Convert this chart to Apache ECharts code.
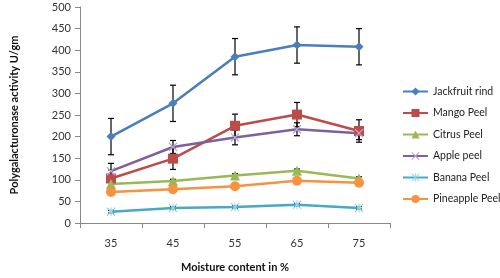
<!DOCTYPE html>
<html>
<head>
<meta charset="utf-8">
<script src="https://cdn.jsdelivr.net/npm/echarts@6/dist/echarts.min.js"></script>
<style>
  html, body { margin: 0; padding: 0; background: #fff; }
  #chart { width: 500px; height: 278px; }
</style>
</head>
<body>
<div id="chart"></div>
<script>
  // moisture content categories
  var moisture = ['35', '45', '55', '65', '75'];

  var jackfruit = [200, 277, 385, 412, 408];
  var mango = [103, 149, 225, 251, 213];
  var citrus = [90, 97, 110, 121, 103];
  var apple = [120, 176, 198, 217, 208];
  var banana = [26, 35, 37, 42, 35];
  var pineapple = [72, 78, 85, 98, 93];

  // standard deviations (error bars)
  var jackfruitErr = [42, 42, 42, 42, 42];
  var mangoErr = [20, 25, 27, 28, 26];
  var citrusErr = [4, 4, 4, 4, 4];
  var appleErr = [18, 15, 17, 15, 15];
  var bananaErr = [3, 3, 3, 3, 3];
  var pineappleErr = [3, 3, 3, 3, 3];

  var xPath = 'path://M0,1 L1,0 L5,4 L9,0 L10,1 L6,5 L10,9 L9,10 L5,6 L1,10 L0,9 L4,5 Z';
  var starPath = 'path://M0,1 L1,0 L5,4 L9,0 L10,1 L6,5 L10,9 L9,10 L5,6 L1,10 L0,9 L4,5 Z M4.4,0 L5.6,0 L5.6,10 L4.4,10 Z';

  var font = 'Lato, "Open Sans", sans-serif';

  function errData(vals, errs) {
    var out = [];
    for (var i = 0; i < vals.length; i++) {
      out.push([i, vals[i] - errs[i], vals[i] + errs[i]]);
    }
    return out;
  }

  function errSeries(vals, errs) {
    return {
      type: 'custom',
      silent: true,
      z: 1,
      data: errData(vals, errs),
      renderItem: function (params, api) {
        var lo = api.coord([api.value(0), api.value(1)]);
        var hi = api.coord([api.value(0), api.value(2)]);
        var w = 3;
        var st = { stroke: '#000', lineWidth: 1.2 };
        return {
          type: 'group',
          children: [
            { type: 'line', shape: { x1: hi[0], y1: hi[1], x2: lo[0], y2: lo[1] }, style: st },
            { type: 'line', shape: { x1: hi[0] - w, y1: hi[1], x2: hi[0] + w, y2: hi[1] }, style: st },
            { type: 'line', shape: { x1: lo[0] - w, y1: lo[1], x2: lo[0] + w, y2: lo[1] }, style: st }
          ]
        };
      }
    };
  }

  function lineSeries(name, vals, color, symbol, size, markColor) {
    return {
      name: name,
      type: 'line',
      data: vals,
      z: 3,
      symbol: symbol,
      symbolSize: size,
      showAllSymbol: true,
      lineStyle: { color: color, width: 2.5 },
      itemStyle: { color: markColor || color, borderWidth: 0 },
      emphasis: { disabled: true }
    };
  }

  var myChart = echarts.init(document.getElementById('chart'));
  myChart.setOption({
    animation: false,
    textStyle: { fontFamily: font },
    grid: { left: 80, right: 110, top: 7, bottom: 52 },
    legend: {
      orient: 'vertical',
      left: 397,
      top: 81,
      itemWidth: 25,
      itemHeight: 10,
      itemGap: 10.5,
      textStyle: { fontSize: 10.5, color: '#222', fontFamily: font },
      data: ['Jackfruit rind', 'Mango Peel', 'Citrus Peel', 'Apple peel', 'Banana Peel', 'Pineapple Peel']
    },
    xAxis: {
      type: 'category',
      data: moisture,
      boundaryGap: true,
      name: 'Moisture content in %',
      nameLocation: 'middle',
      nameGap: 39,
      nameTextStyle: { fontSize: 11, fontWeight: 'bold', color: '#111', fontFamily: font },
      axisLine: { lineStyle: { color: '#888', width: 1 } },
      axisTick: { show: true, length: 5, lineStyle: { color: '#888' } },
      axisLabel: { fontSize: 11, color: '#333', margin: 15 }
    },
    yAxis: {
      type: 'value',
      min: 0,
      max: 500,
      interval: 50,
      name: 'Polygalacturonase activity U/gm',
      nameLocation: 'middle',
      nameGap: 60,
      nameTextStyle: { fontSize: 11, fontWeight: 'bold', color: '#111', fontFamily: font },
      splitLine: { show: false },
      axisLine: { show: true, lineStyle: { color: '#888', width: 1 } },
      axisTick: { show: true, length: 5, lineStyle: { color: '#888' } },
      axisLabel: { fontSize: 11, color: '#333', margin: 9 }
    },
    series: [
      errSeries(jackfruit, jackfruitErr),
      errSeries(mango, mangoErr),
      errSeries(citrus, citrusErr),
      errSeries(apple, appleErr),
      errSeries(banana, bananaErr),
      errSeries(pineapple, pineappleErr),
      lineSeries('Jackfruit rind', jackfruit, '#4a7ebb', 'diamond', 9),
      lineSeries('Mango Peel', mango, '#be4b48', 'rect', 10),
      lineSeries('Citrus Peel', citrus, '#98b954', 'triangle', 10),
      lineSeries('Apple peel', apple, '#7d60a0', xPath, 9, '#b7a6cf'),
      lineSeries('Banana Peel', banana, '#46aac5', starPath, 9, '#9fd3e6'),
      lineSeries('Pineapple Peel', pineapple, '#f69240', 'circle', 10)
    ]
  });
</script>
</body>
</html>
